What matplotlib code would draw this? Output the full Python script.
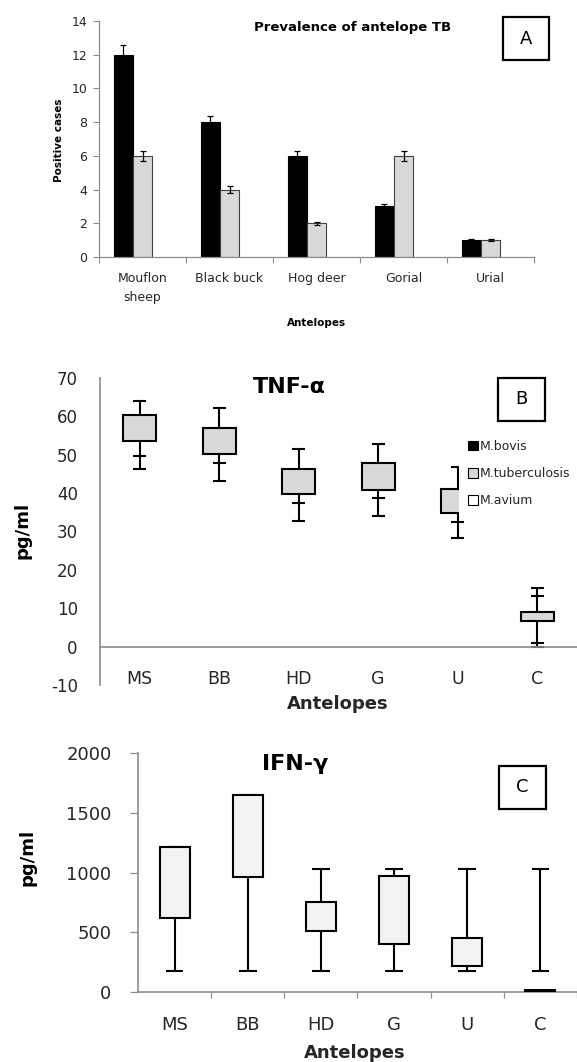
import numpy as np
import matplotlib
matplotlib.use("Agg")
import matplotlib.pyplot as plt
from matplotlib.patches import Rectangle, Patch

plt.rcParams['font.family'] = ['DejaVu Sans']
plt.rcParams['axes.unicode_minus'] = False

# ---------------- data ----------------
A_categories = ['Mouflon\nsheep', 'Black buck', 'Hog deer', 'Gorial', 'Urial']
A_bovis = [12, 8, 6, 3, 1]
A_tb = [6, 4, 2, 6, 1]
A_avium = [0, 0, 0, 0, 0]
A_bovis_err = [0.6, 0.35, 0.3, 0.15, 0.05]
A_tb_err = [0.3, 0.2, 0.1, 0.3, 0.05]
A_yticks = [0, 2, 4, 6, 8, 10, 12, 14]

B_categories = ['MS', 'BB', 'HD', 'G', 'U', 'C']
B_high = [64.0, 62.2, 51.6, 52.9, 46.9, 15.4]
B_box_top = [60.3, 57.1, 46.4, 47.8, 41.0, 9.1]
B_box_bottom = [53.7, 50.1, 39.9, 40.8, 34.9, 6.8]
B_tick_low = [49.7, 47.8, 37.3, 38.6, 32.6, 1.0]
B_tick_high = [np.nan, np.nan, np.nan, np.nan, np.nan, 13.3]
B_low = [46.4, 43.2, 32.7, 34.0, 28.2, 0.0]
B_yticks = [-10, 0, 10, 20, 30, 40, 50, 60, 70]
B_legend = ['M.bovis', 'M.tuberculosis', 'M.avium']

C_categories = ['MS', 'BB', 'HD', 'G', 'U', 'C']
C_high = [1216, 1648, 1032, 1032, 1032, 1032]
C_box_top = [1216, 1648, 750, 973, 455, 15]
C_box_bottom = [622, 962, 513, 399, 218, 0]
C_low = [178, 178, 178, 178, 178, 178]
C_yticks = [0, 500, 1000, 1500, 2000]

W, H = 577, 1062
fig = plt.figure(figsize=(W / 100, H / 100), dpi=100)

def ax_rect(l, r, t, b):
    return [l / W, 1 - b / H, (r - l) / W, (b - t) / H]

def fx(x):
    return x / W

def fy(y):
    return 1 - y / H

SPINE = '#8c8c8c'
TXT = '#262626'
GRAY = '#d9d9d9'
LIGHT = '#f2f2f2'

# ---------------- Panel A ----------------
axA = fig.add_axes(ax_rect(99, 534, 21, 257))
x = np.arange(len(A_categories))
bw = 0.22
axA.bar(x - bw, A_bovis, bw, color='black', edgecolor='black', linewidth=0.8, zorder=2)
axA.bar(x, A_tb, bw, color=GRAY, edgecolor='#404040', linewidth=0.8, zorder=2)
axA.bar(x + bw, A_avium, bw, color='white', edgecolor='#404040', linewidth=0.0, zorder=2)
axA.errorbar(x - bw, A_bovis, yerr=A_bovis_err, fmt='none', ecolor='black',
             elinewidth=0.9, capsize=2.5, capthick=0.9, zorder=3)
axA.errorbar(x, A_tb, yerr=A_tb_err, fmt='none', ecolor='black',
             elinewidth=0.9, capsize=2.5, capthick=0.9, zorder=3)
axA.set_xlim(-0.5, len(A_categories) - 0.5)
axA.set_ylim(0, 14)
axA.set_yticks(A_yticks)
axA.tick_params(axis='y', direction='out', length=4, width=0.8, color=SPINE,
                labelsize=9, labelcolor=TXT, pad=4.5)
axA.set_xticks(np.arange(-0.5, len(A_categories) + 0.5, 1.0))
axA.set_xticklabels([])
axA.tick_params(axis='x', which='major', direction='out', length=4, width=0.8, color=SPINE)
axA.set_xticks(x, minor=True)
axA.set_xticklabels(A_categories, minor=True, fontsize=9, color=TXT, linespacing=1.55)
axA.tick_params(axis='x', which='minor', length=0, pad=11)
for s in ['top', 'right']:
    axA.spines[s].set_visible(False)
for s in ['left', 'bottom']:
    axA.spines[s].set_color(SPINE)
    axA.spines[s].set_linewidth(0.9)
fig.text(fx(353), fy(28), 'Prevalence of antelope TB', fontsize=9.5, fontweight='bold',
         ha='center', va='center', color='black')
fig.text(fx(59), fy(140), 'Positive cases', fontsize=7.5, fontweight='bold',
         rotation=90, ha='center', va='center', color='black')
fig.text(fx(317), fy(323), 'Antelopes', fontsize=7.5, fontweight='bold',
         ha='center', va='center', color='black')

# ---------------- Panel B ----------------
axB = fig.add_axes(ax_rect(100, 577, 378, 685))
xb = np.arange(len(B_categories))
axB.vlines(xb, B_low, B_high, colors='black', linewidth=1.5, zorder=2)
cw = 0.16
axB.hlines(B_high, xb - cw / 2, xb + cw / 2, colors='black', linewidth=1.5, zorder=2)
axB.hlines(B_low, xb - cw / 2, xb + cw / 2, colors='black', linewidth=1.5, zorder=2)
axB.hlines(B_tick_low, xb - cw / 2, xb + cw / 2, colors='black', linewidth=1.5, zorder=2)
th = np.array(B_tick_high)
m = ~np.isnan(th)
axB.hlines(th[m], xb[m] - cw / 2, xb[m] + cw / 2, colors='black', linewidth=1.5, zorder=2)
axB.bar(xb, np.array(B_box_top) - np.array(B_box_bottom), 0.42, bottom=B_box_bottom,
        color=GRAY, edgecolor='black', linewidth=1.5, zorder=3)
axB.set_xlim(-0.5, len(B_categories) - 0.5)
axB.set_ylim(-10, 70)
axB.set_yticks(B_yticks)
axB.tick_params(axis='y', length=0, labelsize=12, labelcolor=TXT, pad=16)
axB.spines['bottom'].set_position(('data', 0))
axB.set_xticks(xb)
axB.set_xticklabels(B_categories)
axB.tick_params(axis='x', length=0, labelsize=12.5, labelcolor=TXT, pad=17)
for s in ['top', 'right']:
    axB.spines[s].set_visible(False)
for s in ['left', 'bottom']:
    axB.spines[s].set_color(SPINE)
    axB.spines[s].set_linewidth(1.2)
handles = [Patch(facecolor='black', edgecolor='black', linewidth=0.8),
           Patch(facecolor=GRAY, edgecolor='black', linewidth=0.8),
           Patch(facecolor='white', edgecolor='black', linewidth=0.8)]
leg = axB.legend(handles, B_legend, loc='upper left',
                 bbox_to_anchor=(fx(459), fy(431)), bbox_transform=fig.transFigure,
                 frameon=True, facecolor='white', edgecolor='none', framealpha=1,
                 fontsize=9, handlelength=0.8, handleheight=0.8, handletextpad=0.15,
                 labelspacing=1.15, borderpad=0.7, borderaxespad=0, fancybox=False)
for t in leg.get_texts():
    t.set_color(TXT)
leg.set_zorder(10)
fig.text(fx(289), fy(387), 'TNF-α', fontsize=16, fontweight='bold',
         ha='center', va='center', color='black')
fig.text(fx(23), fy(530), 'pg/ml', fontsize=13, fontweight='bold',
         rotation=90, ha='center', va='center', color='black')
fig.text(fx(338), fy(704), 'Antelopes', fontsize=13, fontweight='bold',
         ha='center', va='center', color=TXT)

# ---------------- Panel C ----------------
axC = fig.add_axes(ax_rect(138, 577, 753, 992))
xc = np.arange(len(C_categories))
axC.vlines(xc, C_low, C_high, colors='black', linewidth=1.5, zorder=2)
ccw = 0.24
axC.hlines(C_high, xc - ccw / 2, xc + ccw / 2, colors='black', linewidth=1.5, zorder=2)
axC.hlines(C_low, xc - ccw / 2, xc + ccw / 2, colors='black', linewidth=1.5, zorder=2)
axC.bar(xc, np.array(C_box_top) - np.array(C_box_bottom), 0.41, bottom=C_box_bottom,
        color=LIGHT, edgecolor='black', linewidth=1.5, zorder=3)
axC.set_xlim(-0.5, len(C_categories) - 0.5)
axC.set_ylim(0, 2000)
axC.set_yticks(C_yticks)
axC.tick_params(axis='y', direction='out', length=6, width=0.9, color=SPINE,
                labelsize=13, labelcolor=TXT, pad=13)
axC.set_xticks(np.arange(0.5, len(C_categories) + 0.5, 1.0))
axC.set_xticklabels([])
axC.tick_params(axis='x', which='major', direction='out', length=4, width=0.9, color=SPINE)
axC.set_xticks(xc, minor=True)
axC.set_xticklabels(C_categories, minor=True)
axC.tick_params(axis='x', which='minor', length=0, labelsize=13, labelcolor=TXT, pad=17)
for s in ['top', 'right']:
    axC.spines[s].set_visible(False)
for s in ['left', 'bottom']:
    axC.spines[s].set_color(SPINE)
    axC.spines[s].set_linewidth(1.2)
fig.text(fx(295), fy(764), 'IFN-γ', fontsize=16, fontweight='bold',
         ha='center', va='center', color='black')
fig.text(fx(28), fy(857), 'pg/ml', fontsize=13, fontweight='bold',
         rotation=90, ha='center', va='center', color='black')
fig.text(fx(355), fy(1053), 'Antelopes', fontsize=13, fontweight='bold',
         ha='center', va='center', color=TXT)

# ---------------- panel letters ----------------
for (l, r, t, b, letter) in [(503, 549, 17, 60, 'A'), (498, 545, 378, 421, 'B'),
                             (499, 546, 766, 809, 'C')]:
    fig.add_artist(Rectangle((fx(l), fy(b)), (r - l) / W, (b - t) / H,
                             transform=fig.transFigure, facecolor='white',
                             edgecolor='black', linewidth=1.6, zorder=5))
    fig.text(fx((l + r) / 2), fy((t + b) / 2), letter, fontsize=13,
             ha='center', va='center', color='black', zorder=6)

fig.savefig('out.png', dpi=100, facecolor='white')
